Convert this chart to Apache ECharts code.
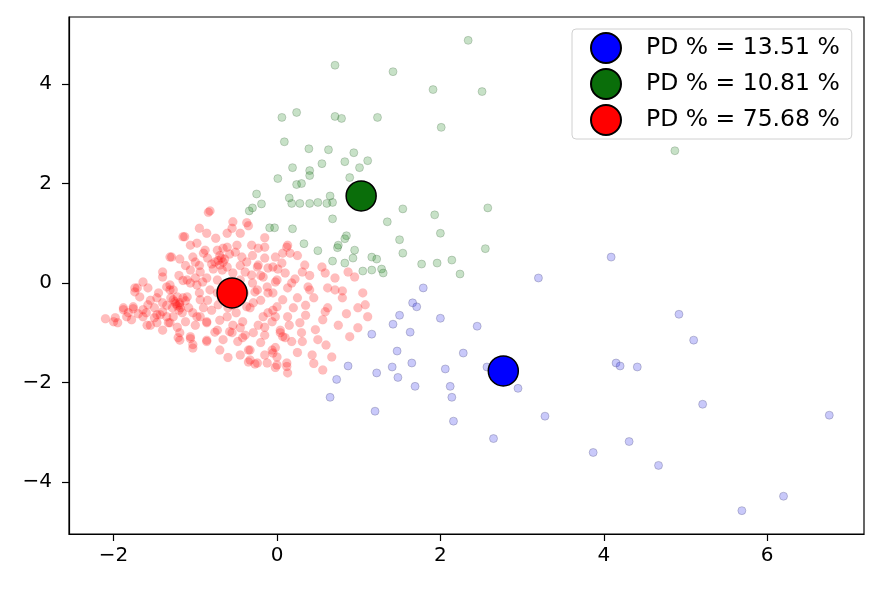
<!DOCTYPE html>
<html>
<head>
<meta charset="utf-8">
<script src="https://cdn.jsdelivr.net/npm/echarts@6.0.0/dist/echarts.min.js"></script>
<style>
  html, body { margin: 0; padding: 0; background: #fff; }
  #chart { width: 881px; height: 590px; }
</style>
</head>
<body>
<div id="chart"></div>
<script>
// 坐标刻度
var xTicks = [-2, 0, 2, 4, 6]
var yTicks = [-4, -2, 0, 2, 4]

// 图例文字
var legendNames = ['PD % = 13.51 %', 'PD % = 10.81 %', 'PD % = 75.68 %']

// 三个中心点
var blueCenter = [[2.77, -1.77]]
var greenCenter = [[1.03, 1.75]]
var redCenter = [[-0.55, -0.20]]

// 蓝色样本点
var bluePoints = [
    [3.2, 0.1], [1.79, -0.1], [1.66, -0.4], [1.71, -0.48], [1.5, -0.65], [2.0, -0.71], [2.45, -0.87], [1.42, -0.83],
    [1.63, -0.99], [1.16, -1.03], [1.47, -1.37], [2.28, -1.41], [2.57, -1.69], [1.65, -1.61], [1.41, -1.69], [0.87, -1.67],
    [2.06, -1.73], [1.22, -1.81], [1.48, -1.9], [0.73, -1.94], [1.69, -2.08], [2.12, -2.08], [2.95, -2.12], [0.65, -2.3],
    [2.14, -2.3], [1.2, -2.58], [2.16, -2.78], [3.28, -2.68], [2.65, -3.13], [4.09, 0.52], [4.92, -0.63], [5.1, -1.15],
    [4.15, -1.61], [4.2, -1.67], [4.41, -1.69], [5.21, -2.44], [6.76, -2.66], [4.31, -3.19], [3.87, -3.41], [4.67, -3.67],
    [6.2, -4.29], [5.69, -4.58]
]

// 绿色样本点
var greenPoints = [
    [2.34, 4.88], [0.71, 4.38], [1.42, 4.25], [1.91, 3.89], [2.51, 3.85], [0.24, 3.43], [0.06, 3.33], [0.71, 3.35],
    [0.79, 3.31], [1.23, 3.33], [2.01, 3.13], [0.09, 2.84], [0.39, 2.70], [0.63, 2.68], [0.94, 2.62], [0.83, 2.44],
    [1.11, 2.46], [1.01, 2.32], [0.55, 2.40], [0.19, 2.32], [0.40, 2.26], [0.40, 2.16], [0.01, 2.10], [0.89, 2.12],
    [0.24, 1.98], [0.30, 2.0], [-0.25, 1.79], [-0.19, 1.59], [0.18, 1.6], [0.28, 1.6], [0.40, 1.6], [0.50, 1.62],
    [0.61, 1.6], [0.68, 1.62], [0.15, 1.71], [0.65, 1.75], [1.54, 1.49], [2.58, 1.51], [-0.34, 1.45], [-0.30, 1.51],
    [0.68, 1.29], [1.35, 1.23], [1.93, 1.37], [2.0, 1.0], [-0.09, 1.11], [-0.03, 1.11], [0.19, 1.09], [1.50, 0.87],
    [1.54, 0.6], [2.55, 0.69], [0.33, 0.79], [0.50, 0.65], [0.74, 0.71], [0.85, 0.95], [0.83, 0.89], [0.93, 0.5],
    [1.22, 0.48], [0.83, 0.40], [1.77, 0.38], [1.96, 0.40], [2.14, 0.46], [2.24, 0.18], [1.28, 0.28], [1.30, 0.2],
    [1.05, 0.24], [0.68, 0.44], [4.87, 2.66], [0.95, 0.66], [1.16, 0.52], [1.16, 0.26], [0.75, 0.76]
]

// 红色样本点
var redPoints = [
    [-0.82, 1.45], [-0.54, 1.23], [-0.37, 1.21], [-0.15, 0.91], [-0.86, 1.0], [-1.15, 0.93], [-1.06, 0.76], [-0.98, 0.8],
    [-1.31, 0.52], [-1.19, 0.48], [-1.03, 0.52], [-0.66, 0.70], [-0.49, 0.76], [-0.66, 0.42], [-0.61, 0.32], [-0.37, 0.42],
    [-0.24, 0.32], [-0.05, 0.32], [0.06, 0.4], [-1.06, 0.26], [-0.94, 0.22], [-1.40, 0.22], [-0.86, 0.1], [-1.06, 0],
    [-0.98, -0.04], [-1.35, -0.08], [-1.31, -0.14], [-1.64, 0.02], [-1.74, -0.1], [-1.22, -0.28], [-1.19, -0.4], [-1.88, -0.5],
    [-1.76, -0.48], [-2.1, -0.72], [-1.98, -0.7], [-1.64, -0.68], [-1.47, -0.64], [-1.40, -0.58], [-1.03, -0.6], [-0.94, -0.68],
    [-1.27, -0.68], [-1.33, -0.8], [-1.55, -0.85], [-1.47, -0.8], [-0.86, -0.78], [-0.73, -0.95], [-0.61, -0.68], [-0.54, -0.85],
    [-0.37, -0.48], [-0.29, -0.4], [-0.42, -0.78], [-0.17, -0.68], [-0.06, -0.78], [-0.29, -1.0], [-0.42, -1.1], [-0.58, -0.98],
    [-1.19, -1.0], [-1.06, -1.08], [-1.21, -1.1], [-1.03, -1.24], [-0.86, -1.18], [-0.66, -1.14], [-0.33, -1.35], [-0.33, -1.55],
    [-0.06, -1.35], [0.0, -1.49], [-0.24, -1.61], [-0.12, -1.61], [0, -1.65], [0.12, -1.61], [0.07, -1.08], [0.04, -0.95],
    [0, -0.48], [0.07, -0.34], [-0.24, -0.14], [-0.12, -0.08], [-0.17, 0.12], [0, 0.06], [0.07, 0.6], [0.12, 0.72],
    [-0.02, 0.52], [-0.72, -0.44], [-0.54, 0.2], [-0.45, 0.06], [-0.82, -0.14], [-0.73, -0.2],
    [-0.55, 1.1], [-0.35, 1.15], [-0.15, 0.72], [0.13, 0.76], [0.16, 0.6], [-0.31, 0.76], [-0.23, 0.7], [-0.51, 0.62],
    [-0.43, 0.52], [0.34, 0.36], [0.31, 0.22], [0.55, 0.32], [0.01, 0.28], [-0.23, 0.36], [-0.11, 0.3], [-0.39, 0.22],
    [-0.31, 0.16], [0.59, 0.2], [0.71, 0.1], [0.87, 0.22], [0.95, 0.12], [0.18, 0], [0.38, -0.08], [0.71, -0.14], [-0.02, 0.02],
    [-0.27, -0.18], [-0.11, -0.2], [0.13, -0.1], [0.40, -0.14], [0.62, -0.1], [0.80, -0.16], [-0.33, -0.5], [-0.11, -0.6],
    [-0.02, -0.68], [-0.23, -0.85], [-0.15, -0.89], [0.13, -0.68], [0.28, -0.8], [0.59, -0.58], [0.62, -0.5], [0.56, -0.74],
    [0.75, -0.85], [0.99, -0.5], [1.08, -0.44], [1.11, -0.68], [0.99, -0.9], [-0.55, -1.0], [-0.39, -1.05], [-0.48, -1.18],
    [0.04, -1.0], [0.1, -1.1], [0.18, -1.18], [0.31, -1.18], [0.5, -1.14], [0.47, -0.94], [0.89, -1.08], [-0.35, -1.35],
    [-0.05, -1.41], [-0.02, -1.3], [0.43, -1.45], [0.67, -1.49], [-0.35, -1.59], [-0.27, -1.63], [-0.02, -1.7], [0.12, -1.68],
    [0.13, -1.81], [0.56, -1.75],
    [-2.0, -0.78], [-1.95, -0.8], [-1.84, -0.68], [-1.78, -0.74], [-1.88, -0.54], [-1.76, -0.52], [-1.64, -0.54], [-1.58, -0.44],
    [-1.59, -0.85], [-1.43, -0.64], [-1.35, -0.68], [-1.27, -0.34], [-1.19, -0.44], [-1.31, -0.8], [-1.22, -0.89], [-1.19, -1.15],
    [-1.06, -1.12], [-1.03, -1.31], [-0.86, -1.15], [-0.76, -0.99], [-0.98, -0.68], [-0.86, -0.8], [-1.10, -0.28], [-0.94, -0.34],
    [-1.47, -0.3], [-1.68, -0.28], [-1.74, -0.18],
    [-0.84, 1.42], [-1.13, 0.93], [-0.88, 0.66], [-1.29, 0.52], [-1.40, 0.12], [-1.71, -0.1], [-1.31, -0.04], [-1.27, -0.14],
    [-1.10, 0.06], [-0.91, 0.02], [-0.73, 0.06], [-0.70, 0.36], [-0.67, 0.26], [-0.73, 0.66], [-0.61, 0.72], [-0.61, 1.0],
    [-1.22, -0.46], [-1.18, -0.5], [-1.25, -0.38], [-1.15, -0.3], [-0.72, 0.45], [-0.68, 0.5], [-0.8, 0.38], [-0.95, 0.35],
    [-0.9, -0.5], [-0.8, -0.55], [-0.6, -0.5], [-0.5, -0.3], [-0.4, -0.2], [-0.3, 0.0], [-0.9, 0.6], [-1.0, 0.1],
    [-0.65, -0.1], [-0.5, -0.6], [-1.4, -0.4], [-1.5, -0.5], [-1.6, -0.6], [-1.45, -0.2], [-0.2, -0.35], [-0.05, -0.2],
    [0.25, -0.3], [0.2, -0.5], [0.35, -0.45], [0.45, -0.3], [-0.15, 0.5], [0.25, 0.55], [0.4, 0.15], [0.3, -1.0],
    [-0.2, -1.2], [-0.7, -1.35], [-0.6, -1.5], [-0.15, -1.05], [0.6, -1.25], [0.8, -0.3], [1.05, -0.2],
    [-1.24, -0.42], [-1.2, -0.55], [-1.28, -0.5], [-1.12, -0.36], [-1.3, -0.3], [-1.16, -0.6], [-1.08, -0.5], [-1.35, -0.45],
    [-0.76, 0.42], [-0.7, 0.55], [-0.64, 0.48], [-0.85, 0.5], [-0.78, 0.28], [-0.58, 0.58], [-1.0, 0.42], [-1.12, 0.35],
    [-1.2, 0.15], [-1.15, 0.05], [-0.95, -0.2], [-0.85, -0.35], [-0.68, -0.3], [-0.55, -0.45], [-0.45, -0.9], [-0.7, -0.75],
    [-1.0, -0.85], [-1.12, -0.78], [-1.4, -0.95], [-1.5, -0.7], [-1.7, -0.62], [-1.82, -0.6], [-1.55, -0.35], [-1.58, -0.1],
    [-0.95, 1.1], [-0.75, 0.9], [-0.45, 1.0], [-0.3, 0.55], [-0.45, 0.35], [-0.2, 0.15], [0.1, 0.2], [0.22, 0.08],
    [-0.05, -0.55], [0.15, -0.85], [0.35, -0.65], [0.25, -1.4], [-0.45, -1.45], [-0.15, -1.45], [0.45, -1.62], [0.85, -0.62]
]

var dom = document.getElementById("chart")
var myChart = echarts.init(dom)

// 负号换成数学减号
function tickText(v) {
    return String(v).replace('-', '\u2212')
}

// 构建坐标轴
function buildAxis(min, max, ticks) {
    return {
        type: 'value',
        min: min,
        max: max,
        axisLine: { show: true, onZero: false, lineStyle: { color: '#000', width: 1.2 } },
        axisTick: {
            show: true,
            inside: false,
            length: 7,
            customValues: ticks,
            lineStyle: { color: '#000', width: 1.2 }
        },
        axisLabel: {
            customValues: ticks,
            color: '#000',
            fontSize: 20,
            fontFamily: 'DejaVu Sans',
            formatter: tickText
        },
        splitLine: { show: false }
    }
}

// 小点样式
function pointSeries(data, size, fill, edge, edgeWidth) {
    return {
        type: 'scatter',
        data: data,
        symbol: 'circle',
        symbolSize: size,
        silent: true,
        itemStyle: { color: fill, borderColor: edge, borderWidth: edgeWidth, opacity: 1 }
    }
}

// 中心点样式
function centerSeries(name, data, fill) {
    return {
        type: 'scatter',
        name: name,
        data: data,
        symbol: 'circle',
        symbolSize: 30,
        z: 5,
        itemStyle: { color: fill, borderColor: '#000', borderWidth: 1.5, opacity: 1 }
    }
}

var xAxis = buildAxis(-2.546, 7.185, xTicks)
xAxis.axisLabel.margin = 12
var yAxis = buildAxis(-5.05, 5.35, yTicks)
yAxis.axisLabel.margin = 17

myChart.setOption({
    animation: false,
    grid: {
        left: 69,
        right: 17,
        top: 17,
        bottom: 56,
        show: true,
        borderColor: '#000',
        borderWidth: 1.2,
        containLabel: false
    },
    legend: {
        orient: 'vertical',
        left: 572,
        top: 29,
        itemWidth: 30,
        itemHeight: 30,
        itemGap: 4,
        padding: [3, 12, 3, 18],
        backgroundColor: 'rgba(255,255,255,0.85)',
        borderColor: '#d0d0d0',
        borderWidth: 1,
        borderRadius: 4,
        textStyle: {
            fontSize: 23.5,
            color: '#000',
            fontFamily: 'DejaVu Sans',
            padding: [0, 0, 0, 20]
        },
        data: legendNames
    },
    xAxis: xAxis,
    yAxis: yAxis,
    series: [
        pointSeries(bluePoints, 8, 'rgba(40,40,235,0.25)', 'rgba(70,70,110,0.28)', 1),
        pointSeries(greenPoints, 8, 'rgba(0,120,0,0.22)', 'rgba(40,80,40,0.22)', 1),
        pointSeries(redPoints, 9, 'rgba(255,0,0,0.26)', 'rgba(255,0,0,0.1)', 0.5),
        centerSeries(legendNames[0], blueCenter, '#0000ff'),
        centerSeries(legendNames[1], greenCenter, '#0a6e0a'),
        centerSeries(legendNames[2], redCenter, '#ff0000')
    ]
})
</script>
</body>
</html>
